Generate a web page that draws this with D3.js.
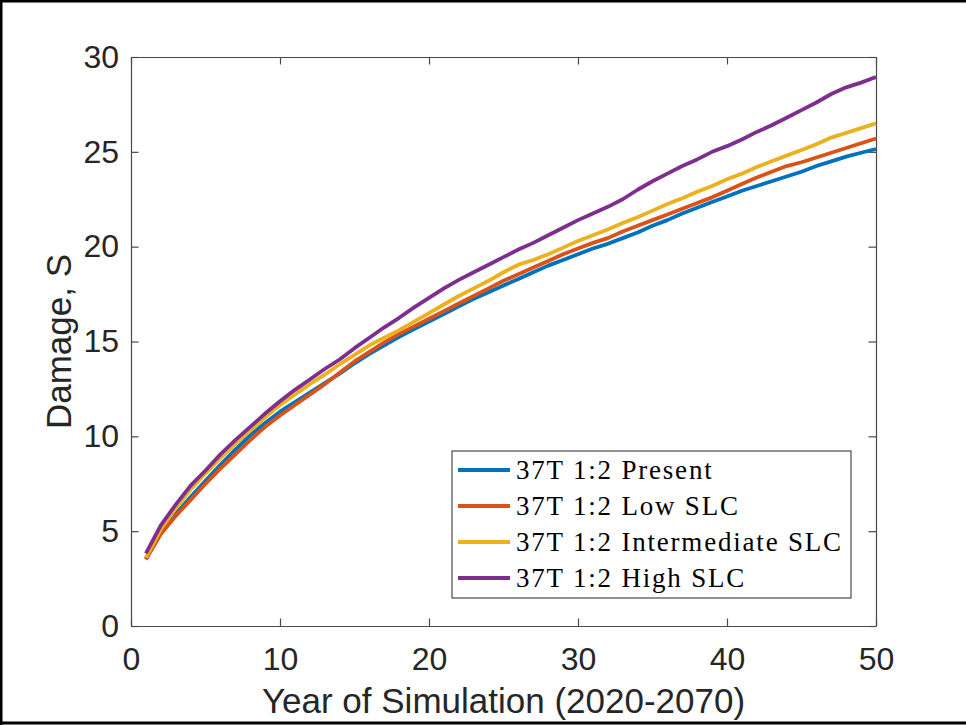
<!DOCTYPE html>
<html>
<head>
<meta charset="utf-8">
<script src="https://cdn.jsdelivr.net/npm/d3@7"></script>
<style>
  body { margin: 0; background: #fff; }
  svg { display: block; }
</style>
</head>
<body>
<svg id="chart" width="966" height="725"></svg>
<script>
// Simulation year (x) and cumulative damage S (y) for each sea-level-change scenario
const years = [1,2,3,4,5,6,7,8,9,10,11,12,13,14,15,16,17,18,19,20,21,22,23,24,25,
               26,27,28,29,30,31,32,33,34,35,36,37,38,39,40,41,42,43,44,45,46,47,48,49,50];

const present = [3.55,4.95,5.9,6.8,7.65,8.5,9.3,10.05,10.7,11.3,11.8,12.3,12.8,13.3,13.85,
                 14.35,14.8,15.25,15.65,16.05,16.45,16.85,17.25,17.6,17.95,18.3,18.65,19.0,19.3,19.6,
                 19.9,20.15,20.45,20.75,21.1,21.4,21.75,22.05,22.35,22.65,22.95,23.2,23.45,23.7,23.95,
                 24.25,24.5,24.75,24.95,25.15];

const lowSLC = [3.5,4.85,5.8,6.65,7.5,8.3,9.05,9.8,10.5,11.1,11.65,12.2,12.75,13.35,13.95,
                14.45,14.95,15.4,15.8,16.2,16.6,17.0,17.4,17.8,18.2,18.55,18.9,19.25,19.6,19.9,
                20.2,20.45,20.8,21.1,21.4,21.7,22.0,22.3,22.6,22.95,23.3,23.65,23.95,24.25,24.45,
                24.7,24.95,25.2,25.45,25.7];

const intermediateSLC = [3.6,5.1,6.2,7.2,8.05,8.85,9.6,10.3,11.0,11.65,12.2,12.75,13.25,13.8,14.3,
                         14.8,15.2,15.6,16.05,16.5,16.95,17.4,17.8,18.2,18.65,19.05,19.3,19.6,19.95,20.3,
                         20.6,20.9,21.25,21.55,21.9,22.25,22.55,22.9,23.2,23.55,23.85,24.2,24.5,24.8,25.1,
                         25.4,25.75,26.0,26.25,26.5];

const highSLC = [3.83,5.3,6.4,7.4,8.2,9.05,9.8,10.5,11.2,11.85,12.45,13.0,13.55,14.05,14.65,
                 15.2,15.75,16.25,16.8,17.3,17.8,18.25,18.65,19.05,19.45,19.85,20.2,20.6,21.0,21.4,
                 21.75,22.1,22.5,23.0,23.45,23.85,24.25,24.6,25.0,25.3,25.65,26.05,26.4,26.8,27.2,
                 27.6,28.05,28.4,28.65,28.95];

const seriesNames = ["37T 1:2 Present", "37T 1:2 Low SLC", "37T 1:2 Intermediate SLC", "37T 1:2 High SLC"];
const seriesColors = ["#0072BD", "#D95319", "#EDB120", "#7E2F8E"];
const seriesValues = [present, lowSLC, intermediateSLC, highSLC];

const xTicks = [0, 10, 20, 30, 40, 50];
const yTicks = [0, 5, 10, 15, 20, 25, 30];
const xLabel = "Year of Simulation (2020-2070)";
const yLabel = "Damage, S";

const svg = d3.select("#chart");
const W = 966, H = 725;
const plot = { left: 131, right: 876, top: 57, bottom: 626 };

const x = d3.scaleLinear().domain([0, 50]).range([plot.left, plot.right]);
const y = d3.scaleLinear().domain([0, 30]).range([plot.bottom, plot.top]);

svg.append("rect").attr("width", W).attr("height", H).attr("fill", "#fff");

// Outer frame of the figure
const frame = svg.append("g").attr("stroke", "#000").attr("stroke-width", 3);
frame.append("line").attr("x1", 0).attr("x2", W).attr("y1", 1).attr("y2", 1);
frame.append("line").attr("x1", 1).attr("x2", 1).attr("y1", 0).attr("y2", H);
frame.append("line").attr("x1", 0).attr("x2", W).attr("y1", 723).attr("y2", 723);

const axisColor = "#4a4a4a";
const textColor = "#262626";
const tickFont = "'Liberation Sans', Arial, Helvetica, sans-serif";
const tickLen = 7.5;

function styleAxis(g, showText) {
  g.select(".domain").attr("stroke", axisColor).attr("stroke-width", 1.2);
  g.selectAll(".tick line").attr("stroke", axisColor).attr("stroke-width", 1.2);
  g.selectAll(".tick text")
    .attr("fill", textColor)
    .style("font-family", tickFont)
    .style("font-size", "32px");
  if (!showText) g.selectAll(".tick text").remove();
}

// Bottom / left axes with labels, top / right mirrored ticks (box)
svg.append("g")
  .attr("transform", `translate(0,${plot.bottom})`)
  .call(d3.axisBottom(x).tickValues(xTicks).tickSizeInner(-tickLen).tickSizeOuter(0).tickPadding(21))
  .call(g => styleAxis(g, true));

svg.append("g")
  .attr("transform", `translate(${plot.left},0)`)
  .call(d3.axisLeft(y).tickValues(yTicks).tickSizeInner(-tickLen).tickSizeOuter(0).tickPadding(12))
  .call(g => styleAxis(g, true));

svg.append("g")
  .attr("transform", `translate(0,${plot.top})`)
  .call(d3.axisTop(x).tickValues(xTicks).tickSizeInner(-tickLen).tickSizeOuter(0).tickFormat(""))
  .call(g => styleAxis(g, false));

svg.append("g")
  .attr("transform", `translate(${plot.right},0)`)
  .call(d3.axisRight(y).tickValues(yTicks).tickSizeInner(-tickLen).tickSizeOuter(0).tickFormat(""))
  .call(g => styleAxis(g, false));

// Axis titles
svg.append("text")
  .attr("x", (plot.left + plot.right) / 2)
  .attr("y", 713)
  .attr("text-anchor", "middle")
  .attr("fill", textColor)
  .style("font-family", tickFont)
  .style("font-size", "35px")
  .text(xLabel);

svg.append("text")
  .attr("transform", `translate(71,${(plot.top + plot.bottom) / 2}) rotate(-90)`)
  .attr("text-anchor", "middle")
  .attr("fill", textColor)
  .style("font-family", tickFont)
  .style("font-size", "35px")
  .text(yLabel);

// Damage curves
const line = d3.line()
  .x((d, i) => x(years[i]))
  .y(d => y(d));

svg.append("g")
  .selectAll("path")
  .data(seriesValues)
  .join("path")
  .attr("d", line)
  .attr("fill", "none")
  .attr("stroke", (d, i) => seriesColors[i])
  .attr("stroke-width", 3.8)
  .attr("stroke-linejoin", "round")
  .attr("stroke-linecap", "butt");

// Legend
const legend = { x: 452, y: 451, w: 399, h: 147, rowStart: 470, rowStep: 36 };
const lg = svg.append("g");
lg.append("rect")
  .attr("x", legend.x).attr("y", legend.y)
  .attr("width", legend.w).attr("height", legend.h)
  .attr("fill", "#fff")
  .attr("stroke", "#262626")
  .attr("stroke-width", 1);

const rows = lg.selectAll("g.row")
  .data(seriesNames)
  .join("g")
  .attr("class", "row")
  .attr("transform", (d, i) => `translate(0,${legend.rowStart + i * legend.rowStep})`);

rows.append("line")
  .attr("x1", 458).attr("x2", 510)
  .attr("y1", 0).attr("y2", 0)
  .attr("stroke", (d, i) => seriesColors[i])
  .attr("stroke-width", 3.8);

rows.append("text")
  .attr("x", 516)
  .attr("y", 9)
  .attr("fill", "#000")
  .style("font-family", "'Liberation Serif', 'Times New Roman', serif")
  .style("font-size", "27px")
  .style("letter-spacing", "1.8px")
  .text(d => d);
</script>
</body>
</html>
